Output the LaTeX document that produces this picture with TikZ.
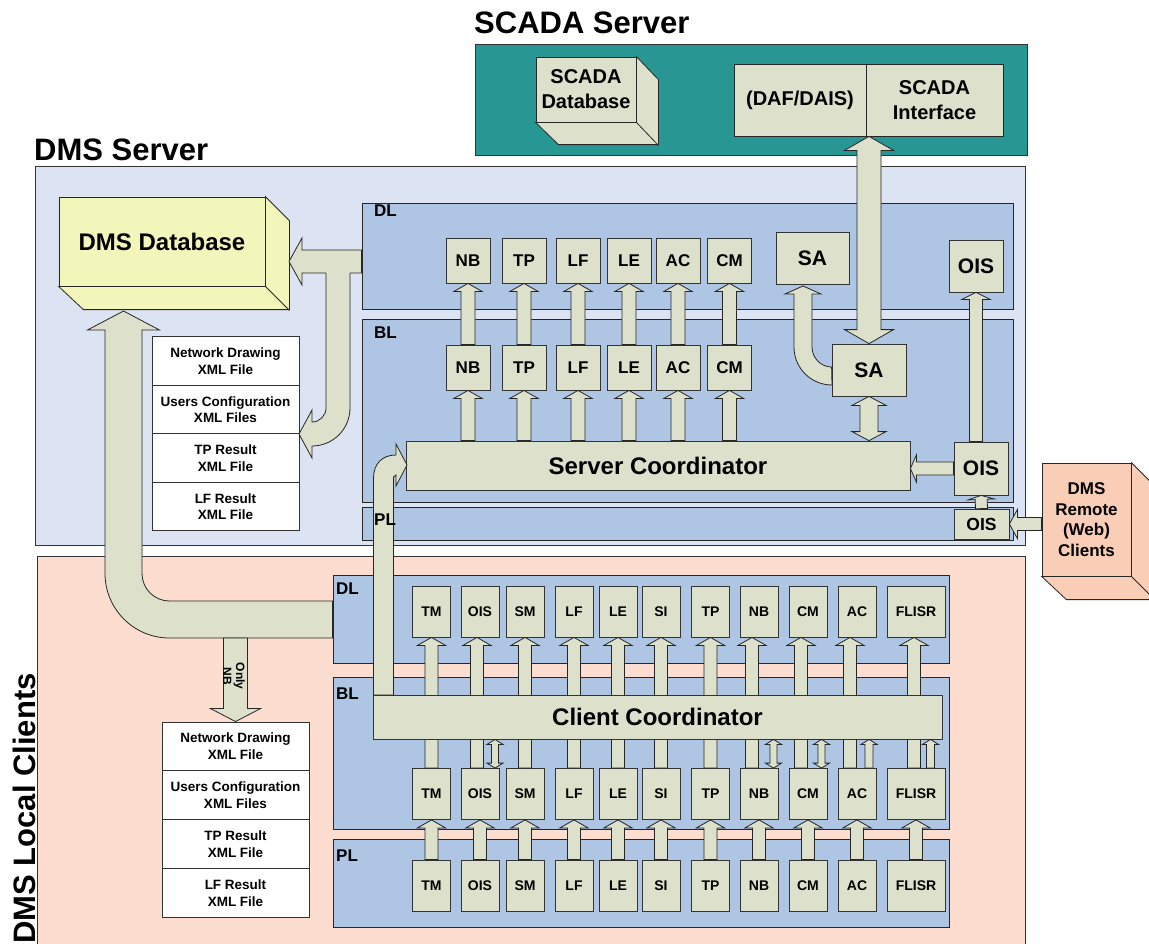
\documentclass[tikz,border=0pt]{standalone}
\usepackage{fontspec}
\setmainfont{Liberation Sans}
\usetikzlibrary{calc}

\definecolor{modfill}{RGB}{221,224,202}
\definecolor{tierblue}{RGB}{175,197,228}
\definecolor{srvfill}{RGB}{220,227,242}
\definecolor{clifill}{RGB}{252,221,207}
\definecolor{scadateal}{RGB}{40,150,146}
\definecolor{dbyellow}{RGB}{243,246,187}
\definecolor{remotefill}{RGB}{249,205,182}

% length and angle of a block arrow from #1 to #2, head length #3
\newcommand{\arrowgeom}[3]{%
  \path let \p1=(#1), \p2=(#2) in
    \pgfextra{%
      \pgfmathparse{atan2((\y2)-(\y1),(\x2)-(\x1))}\xdef\arrang{\pgfmathresult}%
      \pgfmathparse{veclen((\x2)-(\x1),(\y2)-(\y1))}\xdef\arrlen{\pgfmathresult}%
      \pgfmathparse{\arrlen-#3}\xdef\arrb{\pgfmathresult}%
    };%
}
% block arrow: start, end, shaft half width, head half width, head length
\newcommand{\blkarrow}[5]{%
  \arrowgeom{#1}{#2}{#5}%
  \draw[blockarrow, shift={(#1)}, rotate=\arrang]
    (0pt,#3pt) -- (\arrb pt,#3pt) -- (\arrb pt,#4pt) -- (\arrlen pt,0pt)
    -- (\arrb pt,-#4pt) -- (\arrb pt,-#3pt) -- (0pt,-#3pt) -- cycle;%
}
\newcommand{\dblkarrow}[5]{%
  \arrowgeom{#1}{#2}{#5}%
  \draw[blockarrow, shift={(#1)}, rotate=\arrang]
    (0pt,0pt) -- (#5pt,#4pt) -- (#5pt,#3pt) -- (\arrb pt,#3pt) -- (\arrb pt,#4pt)
    -- (\arrlen pt,0pt) -- (\arrb pt,-#4pt) -- (\arrb pt,-#3pt) -- (#5pt,-#3pt)
    -- (#5pt,-#4pt) -- cycle;%
}

\begin{document}
\begin{tikzpicture}[x=1pt, y=-1pt,
  zonebox/.style  = {draw=black!80, line width=0.8pt, inner sep=0pt},
  tierbox/.style  = {draw=black!85, fill=tierblue, line width=0.8pt, inner sep=0pt},
  srvmod/.style   = {draw=black!80, fill=modfill, line width=0.8pt, inner sep=0pt,
                     minimum width=44pt, minimum height=45pt,
                     font=\fontsize{17}{17}\selectfont\bfseries},
  climod/.style   = {draw=black!80, fill=modfill, line width=0.8pt, inner sep=0pt,
                     minimum width=38pt, minimum height=51pt,
                     font=\fontsize{14}{14}\selectfont\bfseries},
  xmlfile/.style  = {draw=black!80, fill=white, line width=0.8pt, inner sep=0pt,
                     minimum width=147pt, minimum height=48.5pt, align=center,
                     font=\fontsize{13.5}{16.5}\selectfont\bfseries},
  lyrlabel/.style = {anchor=north west, inner sep=0pt,
                     font=\fontsize{17}{17}\selectfont\bfseries},
  headline/.style = {anchor=base west, inner sep=0pt,
                     font=\fontsize{31}{31}\selectfont\bfseries},
  blockarrow/.style = {draw=black!85, fill=modfill, line width=0.8pt},
  cubeside/.style = {draw=black!85, line width=0.8pt},
]
\fill[white] (0,0) rectangle (1149,943);
\useasboundingbox (0,0) rectangle (1149,943);

%% titles
\node[headline] (tScada) at (474,33) {SCADA Server};
\node[headline] (tServer) at (34,160) {DMS Server};
\node[headline, rotate=90] (tClients) at (35,944) {DMS Local Clients};

%% the three machines
\node[zonebox, fill=scadateal, minimum width=552pt, minimum height=111pt] (scada) at (751,99.5) {};
\node[zonebox, fill=srvfill, minimum width=990pt, minimum height=379pt] (dmsSrv) at (530,355.5) {};
\node[zonebox, fill=clifill, minimum width=988pt, minimum height=404pt] (dmsCli) at (531,758) {};

%% layers
\node[tierbox, minimum width=651pt, minimum height=106pt] (sDL) at (687.5,256) {};
\node[tierbox, minimum width=651pt, minimum height=183pt] (sBL) at (687.5,410.5) {};
\node[tierbox, minimum width=651pt, minimum height=33pt] (sPL) at (687.5,523.5) {};
\node[tierbox, minimum width=616pt, minimum height=88pt] (cDL) at (641,619) {};
\node[tierbox, minimum width=616pt, minimum height=152pt] (cBL) at (641,753) {};
\node[tierbox, minimum width=616pt, minimum height=88pt] (cPL) at (641,883) {};

%% SCADA side
\node[draw=black!85, fill=modfill, line width=0.8pt, inner sep=0pt,
      minimum width=100pt, minimum height=65pt, align=center,
      font=\fontsize{20}{25}\selectfont\bfseries] (dbScada) at (586,89.5) {SCADA\\Database};
\draw[cubeside, fill=modfill] (dbScada.north east) -- ++(22,23) -- ++(0,65) -- ++(-100,0)
  -- (dbScada.south west) -- (dbScada.south east) -- cycle;
\draw[cubeside] (dbScada.south east) -- ++(22,23);
\node[draw=black!85, fill=modfill, line width=0.8pt, inner sep=0pt,
      minimum width=132pt, minimum height=72pt,
      font=\fontsize{20}{25}\selectfont\bfseries] (dafL) at (800,100) {(DAF/DAIS)};
\node[draw=black!85, fill=modfill, line width=0.8pt, inner sep=0pt,
      minimum width=137pt, minimum height=72pt, align=center,
      font=\fontsize{20}{25}\selectfont\bfseries] (dafR) at (934.5,100) {SCADA\\Interface};

%% DMS database and xml files
\node[draw=black!85, fill=dbyellow, line width=0.8pt, inner sep=0pt,
      minimum width=206pt, minimum height=89pt,
      font=\fontsize{24}{24}\selectfont\bfseries] (dbDMS) at (162,241.5) {DMS Database};
\draw[cubeside, fill=dbyellow] (dbDMS.north east) -- ++(24,24) -- ++(0,89) -- ++(-206,0)
  -- (dbDMS.south west) -- (dbDMS.south east) -- cycle;
\draw[cubeside] (dbDMS.south east) -- ++(24,24);

\foreach \i/\txt in {1/{Network Drawing\\XML File}, 2/{Users Configuration\\XML Files},
                     3/{TP Result\\XML File}, 4/{LF Result\\XML File}}{
  \node[xmlfile] (xmlS\i) at (225.5,{312.5+48.5*\i}) {\txt};
  \node[xmlfile, minimum height=48.9pt] (xmlC\i) at (235.5,{697.5+48.9*\i}) {\txt};
}

%% server modules
\foreach \m/\px in {NB/468, TP/524, LF/578, LE/629, AC/678, CM/729.5}{
  \node[srvmod] (sdl\m) at (\px,260.5) {\m};
  \node[srvmod] (sbl\m) at (\px,367.5) {\m};
}
\node[srvmod, minimum width=73pt, minimum height=52pt,
      font=\fontsize{21}{21}\selectfont\bfseries] (sdlSA) at (812.5,258) {SA};
\node[srvmod, minimum width=54pt, minimum height=52pt,
      font=\fontsize{21}{21}\selectfont\bfseries] (sdlOIS) at (976,266) {OIS};
\node[srvmod, minimum width=74pt, minimum height=52pt,
      font=\fontsize{21}{21}\selectfont\bfseries] (sblSA) at (869,370) {SA};
\node[srvmod, minimum width=54pt, minimum height=53pt,
      font=\fontsize{21}{21}\selectfont\bfseries] (sblOIS) at (981,468.5) {OIS};
\node[srvmod, minimum width=55pt, minimum height=30pt,
      font=\fontsize{17.5}{17.5}\selectfont\bfseries] (splOIS) at (981.5,524) {OIS};
\node[srvmod, minimum width=504pt, minimum height=49pt,
      font=\fontsize{24}{24}\selectfont\bfseries] (srvCo) at (658,465.5) {Server Coordinator};

%% remote clients
\node[draw=black!85, fill=remotefill, line width=0.8pt, inner sep=0pt,
      minimum width=89pt, minimum height=113pt, align=center,
      font=\fontsize{17}{20.5}\selectfont\bfseries] (remote) at (1086.5,519.5) {DMS\\Remote\\(Web)\\Clients};
\draw[cubeside, fill=remotefill] (remote.north east) -- ++(24,24) -- ++(0,113) -- ++(-89,0)
  -- (remote.south west) -- (remote.south east) -- cycle;
\draw[cubeside] (remote.south east) -- ++(24,24);

%% server arrows
\foreach \m in {NB, TP, LF, LE, AC, CM}{
  \blkarrow{sbl\m.north}{sdl\m.south}{7}{14}{8}
  \blkarrow{sbl\m.south |- srvCo.north}{sbl\m.south}{7}{14}{8}
}
\blkarrow{sblOIS.north -| sdlOIS}{sdlOIS.south}{6.5}{14}{7}
\blkarrow{sblOIS.west}{srvCo.east |- sblOIS.west}{6.5}{13.5}{6}
\blkarrow{splOIS.north}{sblOIS.south}{6}{13}{4}
\blkarrow{remote.west |- splOIS.east}{splOIS.east}{6.5}{14.5}{8}
\dblkarrow{sblSA.south}{sblSA.south |- srvCo.north}{9}{17}{9}
\dblkarrow{sblSA.north |- dafR.south}{sblSA.north}{12}{24.5}{14}
\draw[blockarrow] (sblSA.west |- 0,367) .. controls (821,367) and (812,358) .. (812,347)
  -- (812,294) -- (821,294) -- (803,286) -- (785,294) -- (794,294) -- (794,347)
  .. controls (794,368) and (811,385) .. (832,385) -- cycle;

%% DL to database and xml files
\blkarrow{sDL.west |- 0,261.5}{289,261.5}{11.5}{23.5}{13}
\fill[modfill] (326,262) -- (326,408) .. controls (326,415.7) and (319.7,422) .. (312,422)
  -- (312,410) -- (299,434) -- (312,458) -- (312,446)
  .. controls (333,446) and (350,429) .. (350,408) -- (350,262) -- cycle;
\draw[black!85, line width=0.8pt] (326,273) -- (326,408) .. controls (326,415.7) and (319.7,422) .. (312,422)
  -- (312,410) -- (299,434) -- (312,458) -- (312,446)
  .. controls (333,446) and (350,429) .. (350,408) -- (350,273);

%% client modules
\foreach \m/\px/\w in {TM/431.5/38, OIS/480/38, SM/525/38, LF/574/38, LE/618/38, SI/661/38,
                       TP/710.5/38, NB/759/38, CM/808/38, AC/857/38, FLISR/916/58}{
  \node[climod, minimum width=\w pt] (cdl\m) at (\px,611.5) {\m};
  \node[climod, minimum width=\w pt] (cbl\m) at (\px,794) {\m};
  \node[climod, minimum width=\w pt] (cpl\m) at (\px,885.5) {\m};
}

%% client arrows
\foreach \m/\dx in {TM/0, OIS/-3, SM/0, LF/0, LE/0, SI/0, TP/0, NB/-7, CM/-7, AC/-7, FLISR/-2}{
  \coordinate (cs\m) at ($(cbl\m.north)+(\dx,0)$);
  \blkarrow{cs\m}{cs\m |- cdl\m.south}{6.5}{14}{8}
  \blkarrow{cpl\m.north}{cbl\m.south}{6.5}{14}{8}
}

% client up to server coordinator
\draw[blockarrow] (373.5,695) -- (373.5,478) .. controls (373.5,464) and (382,455) .. (396,455)
  -- (396,444) -- (407,465) -- (396,486) -- (396,475) -- (393.5,477) -- (393.5,695) -- cycle;

% client DL back to the DMS database
\draw[blockarrow] (cDL.west |- 0,601) -- (169.5,601) .. controls (154.3,601) and (142,588.7) .. (142,573.5)
  -- (142,330) -- (159.5,330) -- (123.5,311) -- (87.5,330) -- (105,330) -- (105,573.5)
  .. controls (105,609.1) and (133.9,638) .. (169.5,638) -- (cDL.west |- 0,638) -- cycle;
\blkarrow{xmlC1.north |- 0,638}{xmlC1.north}{12}{25}{13}
\node[rotate=-90, inner sep=0pt, align=center,
      font=\fontsize{12}{13}\selectfont\bfseries] (onlyNB) at (234,676) {Only\\NB};

\node[climod, minimum width=569pt, minimum height=44pt,
      font=\fontsize{24}{24}\selectfont\bfseries] (cliCo) at (657.5,717) {Client Coordinator};

% small links between coordinator and BL modules
\foreach \m/\dx in {OIS/15, NB/14.5, CM/13.5}{
  \coordinate (ds\m) at ($(cbl\m.north)+(\dx,0)$);
  \dblkarrow{ds\m}{ds\m |- cliCo.south}{3.5}{8}{5}
}
\foreach \m/\dx in {AC/12, FLISR/14.5}{
  \coordinate (us\m) at ($(cbl\m.north)+(\dx,0)$);
  \blkarrow{us\m}{us\m |- cliCo.south}{4}{8}{5}
}

%% layer names
\node[lyrlabel] (lsDL) at (374,205) {DL};
\node[lyrlabel] (lsBL) at (374,327) {BL};
\node[lyrlabel] (lsPL) at (374,514) {PL};
\node[lyrlabel] (lcDL) at (336,583) {DL};
\node[lyrlabel] (lcBL) at (336,688) {BL};
\node[lyrlabel] (lcPL) at (336,850) {PL};

\end{tikzpicture}
\end{document}
